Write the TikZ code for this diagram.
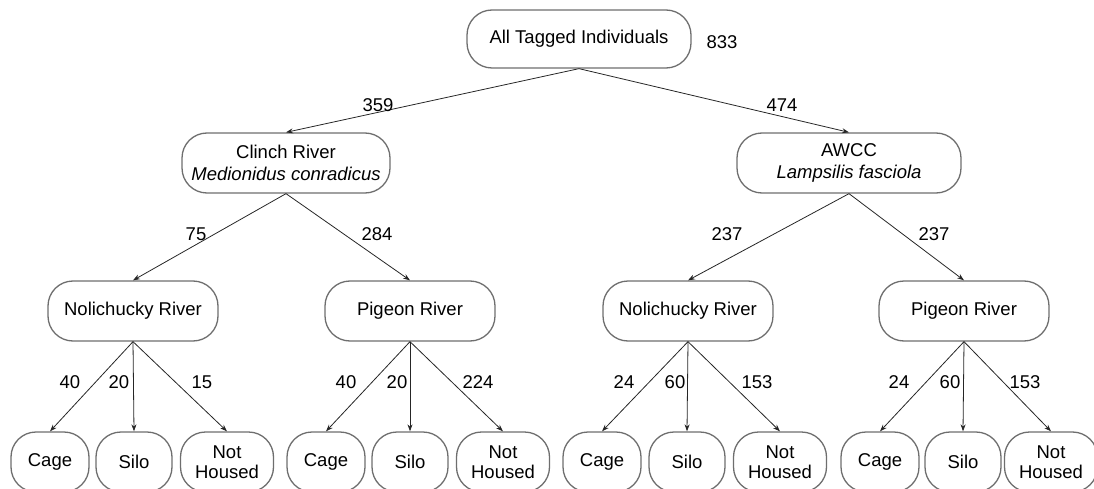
\documentclass[tikz,border=0pt]{standalone}
\usepackage{fontspec}
\setmainfont{Liberation Sans}
\usetikzlibrary{arrows.meta}
\definecolor{boxgray}{RGB}{110,110,110}
\tikzset{
  box/.style={draw=boxgray, line width=1.3pt, rounded corners=25pt, inner sep=0pt,
    align=center, font=\fontsize{18.5}{22}\selectfont, fill=white},
  lbl/.style={inner sep=0pt, font=\fontsize{18.5}{22}\selectfont},
  conn/.style={draw=black!85, line width=0.8pt, -{Stealth[length=7pt,width=5pt]}},
}
\begin{document}
\begin{tikzpicture}[x=1pt,y=-1pt]
\useasboundingbox (0,0) rectangle (1094,489);
% level 0
\node[box, minimum width=224pt, minimum height=58pt] (root) at (579,39) {All Tagged Individuals};
\node[lbl] (n833) at (722,42) {833};
% level 1
\node[box, minimum width=208pt, minimum height=60pt] (clinch) at (286,163) {Clinch River\\\textit{Medionidus conradicus}};
\node[box, minimum width=224pt, minimum height=60pt] (awcc) at (849,163) {AWCC\\\textit{Lampsilis fasciola}};
% level 2
\node[box, minimum width=170pt, minimum height=60pt] (nolL) at (133,311) {Nolichucky River};
\node[box, minimum width=170pt, minimum height=60pt] (pigL) at (410,311) {Pigeon River};
\node[box, minimum width=170pt, minimum height=60pt] (nolR) at (688,311) {Nolichucky River};
\node[box, minimum width=170pt, minimum height=60pt] (pigR) at (964,311) {Pigeon River};
% level 3
\foreach \g/\cx/\sx/\nx in {a/50/134/227, b/326/410/503, c/602/687/780, d/880/963/1051}{
  \node[box, minimum width=78pt, minimum height=60pt] (cage\g) at (\cx,462) {Cage};
  \node[box, minimum width=76pt, minimum height=60pt] (silo\g) at (\sx,462) {Silo};
  \node[box, minimum width=93pt, minimum height=60pt] (nh\g) at (\nx,462) {Not\\[-2pt]Housed};
}
% connectors
\draw[conn] (root.south) -- (clinch.north);
\draw[conn] (root.south) -- (awcc.north);
\draw[conn] (clinch.south) -- (nolL.north);
\draw[conn] (clinch.south) -- (pigL.north);
\draw[conn] (awcc.south) -- (nolR.north);
\draw[conn] (awcc.south) -- (pigR.north);
\foreach \p/\g in {nolL/a, pigL/b, nolR/c, pigR/d}{
  \draw[conn] (\p.south) -- (cage\g.north);
  \draw[conn] (\p.south) -- (silo\g.north);
  \draw[conn] (\p.south) -- (nh\g.north);
}
% labels
\node[lbl] (l359) at (378,105) {359};
\node[lbl] (l474) at (782,105) {474};
\node[lbl] (l75) at (196,234) {75};
\node[lbl] (l284) at (377,234) {284};
\node[lbl] (l237a) at (727,234) {237};
\node[lbl] (l237b) at (934,234) {237};
\node[lbl] (la40) at (70,382) {40};
\node[lbl] (la20) at (119,382) {20};
\node[lbl] (la15) at (202,382) {15};
\node[lbl] (lb40) at (346,382) {40};
\node[lbl] (lb20) at (397,382) {20};
\node[lbl] (lb224) at (478,382) {224};
\node[lbl] (lc24) at (624,382) {24};
\node[lbl] (lc60) at (675,382) {60};
\node[lbl] (lc153) at (757,382) {153};
\node[lbl] (ld24) at (899,382) {24};
\node[lbl] (ld60) at (950,382) {60};
\node[lbl] (ld153) at (1025,382) {153};
\end{tikzpicture}
\end{document}
